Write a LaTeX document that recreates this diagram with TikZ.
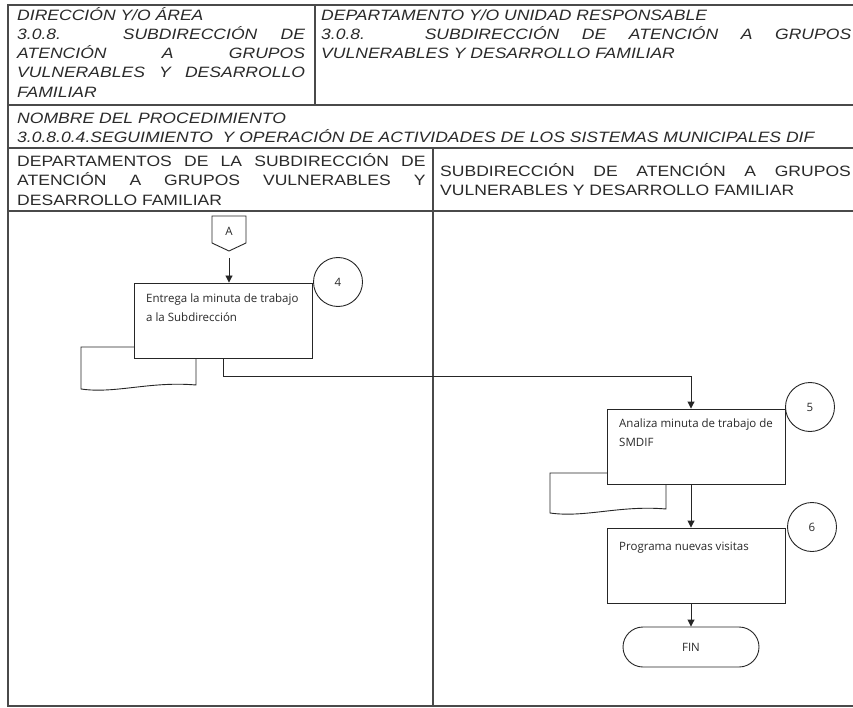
\documentclass[tikz,border=0pt]{standalone}
\usepackage{fontspec}
\setmainfont{Liberation Sans}
\newfontfamily\flowfont{Open Sans}
\usetikzlibrary{arrows.meta}
\definecolor{framec}{HTML}{4A4A4A}
\definecolor{txtc}{HTML}{2A2A2A}
\newcommand{\hx}[1]{\scalebox{1.17}[1]{#1}}
\newcommand{\jl}[2]{\makebox[#1][s]{#2}}
\tikzset{
  frame/.style={draw=framec, line width=1.3pt},
  hdr/.style={anchor=base west, inner sep=0pt, text=txtc, font=\fontsize{15}{18}\selectfont\itshape},
  hdrup/.style={anchor=base west, inner sep=0pt, text=txtc, font=\fontsize{15}{18}\selectfont},
  flow/.style={draw=black!85, line width=0.9pt},
  procbox/.style={flow, rectangle, minimum width=178pt, minimum height=75pt, inner sep=0pt},
  stepnum/.style={flow, circle, minimum size=49pt, inner sep=0pt, text=txtc, font=\flowfont\fontsize{11.5}{13}\selectfont},
  ftext/.style={anchor=base west, inner sep=0pt, align=left, text=txtc, font=\flowfont\fontsize{11.5}{19}\selectfont},
  arr/.style={flow, -{Triangle[width=7pt,length=7pt]}},
}
\begin{document}
\begin{tikzpicture}[x=1pt,y=-1pt]
\useasboundingbox (0,0) rectangle (853,708);
\fill[white] (0,0) rectangle (853,708);
% frame
\draw[frame] (853,5) -- (8,5) -- (8,706) -- (853,706);
\draw[frame] (8,105) -- (853,105);
\draw[frame] (8,148) -- (853,148);
\draw[frame] (8,211) -- (853,211);
\draw[frame] (315,5) -- (315,105);
\draw[frame] (433,148) -- (433,706);
% header row 1 left
\node[hdr] (h1) at (17,20.7) {\hx{DIRECCIÓN Y/O ÁREA}};
\node[hdr] (h2) at (17,40) {\hx{\jl{246pt}{3.0.8. SUBDIRECCIÓN DE}}};
\node[hdr] (h3) at (17,59) {\hx{\jl{246pt}{ATENCIÓN A GRUPOS}}};
\node[hdr] (h4) at (17,78) {\hx{\jl{246pt}{VULNERABLES Y DESARROLLO}}};
\node[hdr] (h5) at (17,98) {\hx{FAMILIAR}};
% header row 1 right
\node[hdr] (r1) at (321,20.7) {\hx{DEPARTAMENTO Y/O UNIDAD RESPONSABLE}};
\node[hdr] (r2) at (321,40) {\hx{\jl{453pt}{3.0.8. SUBDIRECCIÓN DE ATENCIÓN A GRUPOS}}};
\node[hdr] (r3) at (321,59) {\hx{VULNERABLES Y DESARROLLO FAMILIAR}};
% row 2
\node[hdr] (p1) at (17,124) {\hx{NOMBRE DEL PROCEDIMIENTO}};
\node[hdr] (p2) at (17,143) {\hx{3.0.8.0.4.SEGUIMIENTO\ \ Y OPERACIÓN DE ACTIVIDADES DE LOS SISTEMAS MUNICIPALES DIF}};
% row 3
\node[hdrup] (l1) at (17,167) {\hx{\jl{349pt}{DEPARTAMENTOS DE LA SUBDIRECCIÓN DE}}};
\node[hdrup] (l2) at (17,186) {\hx{\jl{349pt}{ATENCIÓN A GRUPOS VULNERABLES Y}}};
\node[hdrup] (l3) at (17,206) {\hx{DESARROLLO FAMILIAR}};
\node[hdrup] (m1) at (440,177) {\hx{\jl{351pt}{SUBDIRECCIÓN DE ATENCIÓN A GRUPOS}}};
\node[hdrup] (m2) at (440,196) {\hx{VULNERABLES Y DESARROLLO FAMILIAR}};
% off-page connector A
\draw[flow] (212,216) -- (246,216) -- (246,243) -- (229,251) -- (212,243) -- cycle;
\node[inner sep=0pt, font=\flowfont\fontsize{11.5}{13}\selectfont, text=txtc] (A) at (229,231) {A};
\coordinate (Aout) at (229,258);
% step 4
\draw[flow] (134,347) -- (81,347) -- (81,389) .. controls (115,394) and (150,381) .. (196,385) -- (196,358);
\node[procbox] (b4) at (223,320.5) {};
\node[stepnum] (c4) at (338,282) {4};
\node[ftext] (t4) at (146,321) {Entrega la minuta de trabajo\\a la Subdirección};
\draw[arr] (Aout) -- (Aout |- b4.north);
% step 5
\draw[flow] (607,473) -- (550,473) -- (550,513) .. controls (585,518) and (620,505) .. (666,509) -- (666,484);
\node[procbox] (b5) at (696,446.5) {};
\node[stepnum] (c5) at (810,407) {5};
\node[ftext] (t5) at (619,446) {Analiza minuta de trabajo de\\SMDIF};
\draw[arr] (b4.south) |- (691,376) -- ([xshift=-5pt]b5.north);
% step 6
\node[procbox] (b6) at (696,565.5) {};
\node[stepnum] (c6) at (812,527) {6};
\node[ftext] (t6) at (619,550) {Programa nuevas visitas};
\draw[arr] ([xshift=-5pt]b5.south) -- ([xshift=-5pt]b6.north);
% end
\node[flow, rounded corners=20pt, minimum width=136pt, minimum height=40pt, inner sep=0pt, font=\flowfont\fontsize{11.5}{13}\selectfont, text=txtc] (fin) at (691,647) {FIN};
\draw[arr] ([xshift=-5pt]b6.south) -- (fin.north);
\end{tikzpicture}
\end{document}
